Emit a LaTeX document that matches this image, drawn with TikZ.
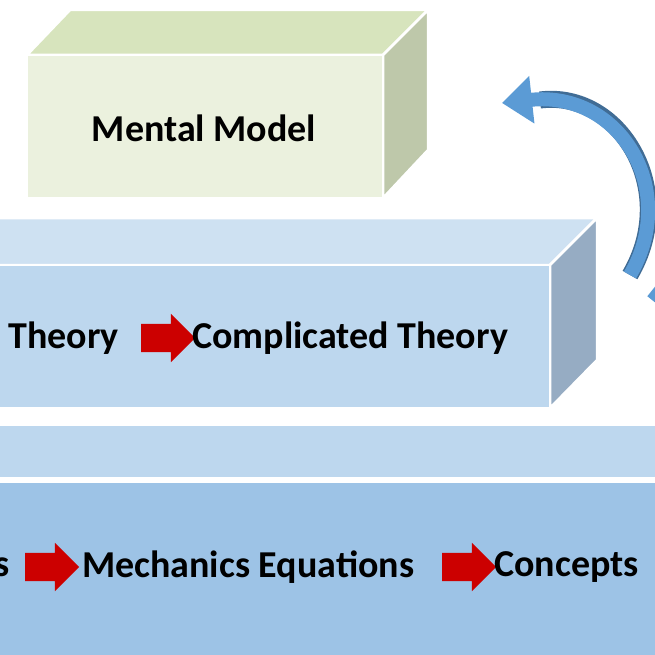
\documentclass[tikz,border=0pt]{standalone}
\usepackage{fontspec}
\setmainfont{Carlito}
\usetikzlibrary{shapes.arrows,arrows.meta}
\definecolor{greenfront}{RGB}{235,241,222}
\definecolor{greentop}{RGB}{215,228,189}
\definecolor{greenside}{RGB}{190,200,170}
\definecolor{bluefront}{RGB}{189,215,238}
\definecolor{bluetop}{RGB}{206,225,242}
\definecolor{blueside}{RGB}{150,172,195}
\definecolor{deepfront}{RGB}{157,195,230}
\definecolor{deeptop}{RGB}{189,215,238}
\definecolor{arrowred}{RGB}{204,0,0}
\definecolor{loopblue}{RGB}{91,155,213}
\tikzset{
  face/.style={draw=white,line width=2.5pt},
  label/.style={font=\fontsize{38}{42}\selectfont\bfseries,inner sep=0pt},
  redarrow/.style={single arrow,fill=arrowred,draw=none,minimum height=54pt,
    single arrow head extend=10pt,inner xsep=0pt,inner ysep=14pt}
}
\begin{document}
\begin{tikzpicture}[x=1pt,y=1pt,yscale=-1]
\useasboundingbox (0,0) rectangle (655,655);
% top block
\draw[face,fill=greentop] (27,55) -- (70,10) -- (428,10) -- (383,55) -- cycle;
\draw[face,fill=greenside] (383,55) -- (428,10) -- (428,150) -- (383,198) -- cycle;
\draw[face,fill=greenfront] (27,55) rectangle (383,198);
% middle block
\draw[face,fill=bluetop] (-5,265) -- (-5,218) -- (597,218) -- (550,265) -- cycle;
\draw[face,fill=blueside] (550,265) -- (597,218) -- (597,360) -- (550,408) -- cycle;
\draw[face,fill=bluefront] (-5,265) rectangle (550,408);
% bottom block
\draw[face,fill=deeptop] (-5,425) rectangle (660,478);
\draw[face,fill=deepfront] (-5,482) rectangle (660,660);
% texts
\node[label] (mental) at (204,128) {Mental Model};
\node[label,anchor=east] (theory) at (119,338) {Theory};
\node[redarrow] (arrA) at (161,338) {};
\node[label,anchor=west] (complicated) at (192,338) {Complicated Theory};
\node[label,anchor=east] (basics) at (10,567) {s};
\node[redarrow] (arrB) at (45,567) {};
\node[label,anchor=west] (mechanics) at (82,567) {Mechanics Equations};
\node[redarrow] (arrC) at (462,567) {};
\node[label,anchor=west] (concepts) at (494,567) {Concepts};
% loop arrow
\coordinate (loopstart) at (630,275);
\coordinate (loopend) at (502,103);
\draw[loopblue!70!black,line width=17pt] (loopstart) .. controls (680,190) and (620,90) .. (540,100);
\draw[loopblue,line width=14pt,-{Triangle[length=30pt,width=46pt]}] (loopstart) .. controls (680,190) and (620,90) .. (loopend);
\draw[loopblue,line width=12pt] (652,300) -- (660,290);
\end{tikzpicture}
\end{document}
